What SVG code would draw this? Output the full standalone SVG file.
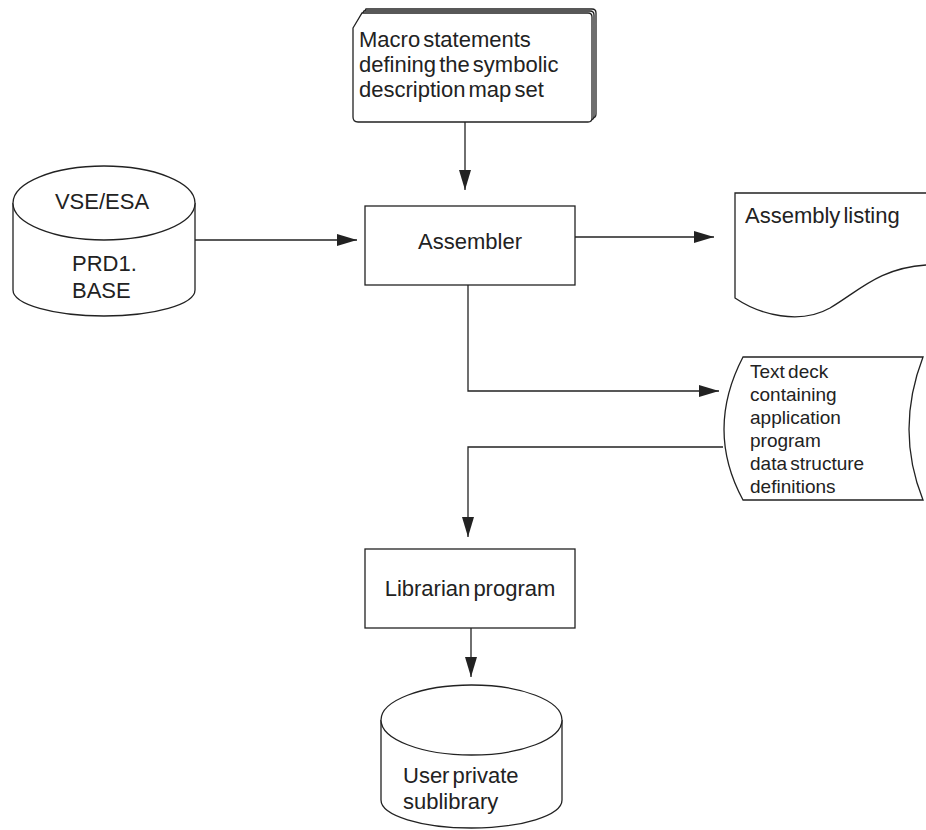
<svg xmlns="http://www.w3.org/2000/svg" width="926" height="830" viewBox="0 0 926 830">
<style>
.s{fill:#fff;stroke:#222;stroke-width:1.3}
.t{font-family:"Liberation Sans",Arial,sans-serif;font-size:22px;fill:#222;word-spacing:-3px}
.d{font-size:19px;word-spacing:-2px}
.c{fill:none;stroke:#222;stroke-width:1.3}
</style>
<defs>
<marker id="ah" markerWidth="20" markerHeight="12" refX="20" refY="6" orient="auto" markerUnits="userSpaceOnUse">
<path d="M0,0 L20,6 L0,12 Z" fill="#222"/>
</marker>
</defs>
<g id="macro">
<path class="s" d="M357,24 L366,9 L592,9 Q596,9 596,13 L596,114 Q596,118 592,118 L362,118 Q357,118 357,113 Z"/>
<path class="s" d="M355,26 L364,11 L590,11 Q594,11 594,15 L594,116 Q594,120 590,120 L360,120 Q355,120 355,115 Z"/>
<path class="s" d="M353,28 L362,13 L588,13 Q592,13 592,17 L592,118 Q592,122 588,122 L358,122 Q353,122 353,117 Z"/>
<text class="t" x="359" y="47">Macro statements</text>
<text class="t" x="359" y="72">defining the symbolic</text>
<text class="t" x="359" y="97">description map set</text>
</g>
<g id="vse">
<path class="s" d="M13,203 L13,290 A91,26 0 0 0 195,290 L195,203"/>
<ellipse class="s" cx="104" cy="203" rx="91" ry="37"/>
<text class="t" x="102" y="209" text-anchor="middle">VSE/ESA</text>
<text class="t" x="72" y="271">PRD1.</text>
<text class="t" x="72" y="298">BASE</text>
</g>
<g id="assembler">
<rect class="s" x="365" y="206" width="210" height="79"/>
<text class="t" x="470" y="249" text-anchor="middle">Assembler</text>
</g>
<g id="listing">
<path class="s" d="M926,193 L735,193 L735,298 C760,315 800,325 830,308 C860,290 880,268 926,265"/>
<text class="t" x="745" y="223">Assembly listing</text>
</g>
<g id="textdeck">
<path class="s" d="M743,357 L923,357 Q895,430 923,500 L743,500 Q705,430 743,357 Z"/>
<text class="t d" x="750" y="378">Text deck</text>
<text class="t d" x="750" y="401">containing</text>
<text class="t d" x="750" y="424">application</text>
<text class="t d" x="750" y="447">program</text>
<text class="t d" x="750" y="470">data structure</text>
<text class="t d" x="750" y="493">definitions</text>
</g>
<g id="librarian">
<rect class="s" x="365" y="549" width="210" height="79"/>
<text class="t" x="470" y="596" text-anchor="middle">Librarian program</text>
</g>
<g id="userlib">
<path class="s" d="M381,720 L381,800 A90.5,28 0 0 0 562,800 L562,720"/>
<ellipse class="s" cx="471.5" cy="720" rx="90.5" ry="35"/>
<text class="t" x="403" y="783">User private</text>
<text class="t" x="403" y="809">sublibrary</text>
</g>
<g id="connectors">
<path class="c" d="M465,122 L465,190" marker-end="url(#ah)"/>
<path class="c" d="M195,240 L357,240" marker-end="url(#ah)"/>
<path class="c" d="M575,237 L714,237" marker-end="url(#ah)"/>
<path class="c" d="M468,285 L468,391 L719,391" marker-end="url(#ah)"/>
<path class="c" d="M723,447 L468,447 L468,537" marker-end="url(#ah)"/>
<path class="c" d="M471,628 L471,677" marker-end="url(#ah)"/>
</g>
</svg>
